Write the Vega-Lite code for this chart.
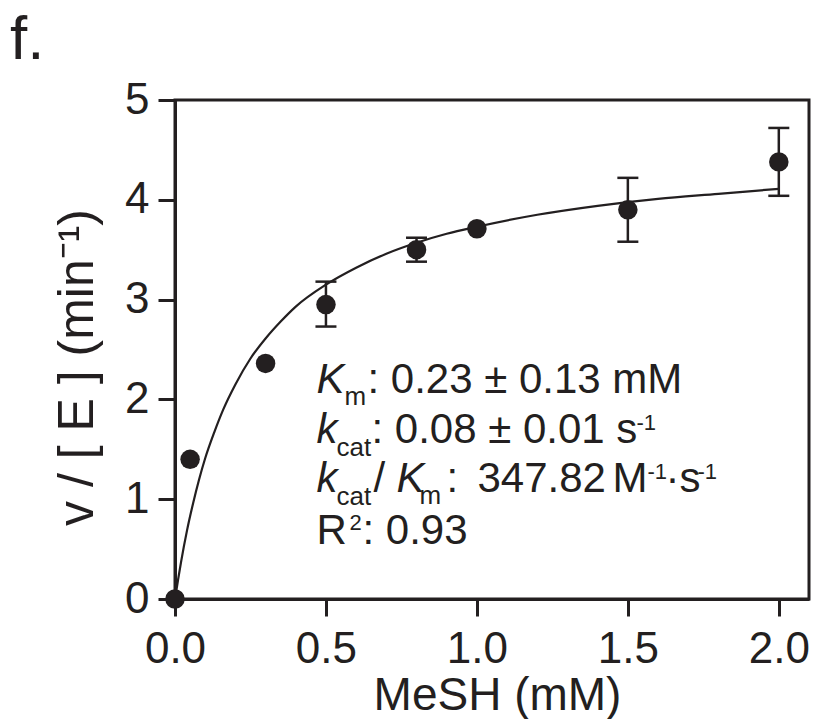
{
  "$schema": "https://vega.github.io/schema/vega-lite/v6.json",
  "width": 634,
  "height": 499,
  "autosize": {"type": "none"},
  "padding": {"left": 175, "top": 100, "right": 9, "bottom": 120},
  "background": "white",
  "title": {"text": "f.", "anchor": "start", "frame": "group", "fontSize": 62, "fontWeight": "normal", "dx": -165, "offset": -43, "baseline": "alphabetic", "color": "#231f20", "font": "Liberation Sans"},
  "config": {
    "font": "Liberation Sans",
    "view": {"stroke": "#231f20", "strokeWidth": 3},
    "text": {"font": "Liberation Sans", "color": "#231f20"},
    "axis": {"grid": false, "labelFlush": false, "labelOverlap": false, "domainColor": "#231f20", "domainWidth": 3, "tickColor": "#231f20", "tickWidth": 3, "tickSize": 17, "labelColor": "#231f20", "titleColor": "#231f20", "labelFont": "Liberation Sans", "titleFont": "Liberation Sans", "titleFontWeight": "normal", "labelFontSize": 44}
  },
  "datasets": {
    "obs": [
      {"x": 0, "y": 0},
      {"x": 0.05, "y": 1.40},
      {"x": 0.3, "y": 2.36},
      {"x": 0.5, "y": 2.95, "lo": 2.73, "hi": 3.18},
      {"x": 0.8, "y": 3.50, "lo": 3.38, "hi": 3.62},
      {"x": 1.0, "y": 3.71},
      {"x": 1.5, "y": 3.90, "lo": 3.58, "hi": 4.22},
      {"x": 2.0, "y": 4.38, "lo": 4.04, "hi": 4.72}
    ],
    "fit": [
      {"x": 0, "y": 0},
      {"x": 0.01, "y": 0.19},
      {"x": 0.02, "y": 0.37},
      {"x": 0.04, "y": 0.69},
      {"x": 0.06, "y": 0.96},
      {"x": 0.08, "y": 1.20},
      {"x": 0.1, "y": 1.41},
      {"x": 0.13, "y": 1.67},
      {"x": 0.16, "y": 1.90},
      {"x": 0.2, "y": 2.15},
      {"x": 0.25, "y": 2.41},
      {"x": 0.3, "y": 2.61},
      {"x": 0.35, "y": 2.78},
      {"x": 0.4, "y": 2.93},
      {"x": 0.5, "y": 3.15},
      {"x": 0.6, "y": 3.32},
      {"x": 0.7, "y": 3.46},
      {"x": 0.8, "y": 3.57},
      {"x": 0.9, "y": 3.66},
      {"x": 1.0, "y": 3.73},
      {"x": 1.2, "y": 3.85},
      {"x": 1.4, "y": 3.94},
      {"x": 1.6, "y": 4.01},
      {"x": 1.8, "y": 4.06},
      {"x": 2.0, "y": 4.11}
    ],
    "note": [{"line": "stats"}]
  },
  "layer": [
    {"data": {"name": "fit"}, "mark": {"type": "line", "color": "#231f20", "strokeWidth": 2.2, "interpolate": "monotone", "clip": false},
      "encoding": {
        "x": {"field": "x", "type": "quantitative", "scale": {"domain": [0, 2.1], "nice": false, "zero": false},
          "axis": {"title": "MeSH (mM)", "values": [0, 0.5, 1, 1.5, 2], "format": ".1f", "labelPadding": 11, "titleFontSize": 46, "titleX": 322, "titleY": 110, "titleBaseline": "alphabetic"}},
        "y": {"field": "y", "type": "quantitative", "scale": {"domain": [0, 5], "nice": false},
          "axis": {"title": "v / [ E ] (min⁻¹)", "values": [0, 1, 2, 3, 4, 5], "format": "d", "labelPadding": 9, "titleFontSize": 50, "titleX": -83, "titleY": 267, "titleBaseline": "alphabetic"}}
      }},
    {"data": {"name": "obs"}, "transform": [{"filter": "isValid(datum.lo)"}],
      "mark": {"type": "rule", "color": "#231f20", "strokeWidth": 2.5},
      "encoding": {"x": {"field": "x", "type": "quantitative"}, "y": {"field": "lo", "type": "quantitative"}, "y2": {"field": "hi"}}},
    {"data": {"name": "obs"}, "transform": [{"filter": "isValid(datum.lo)"}],
      "mark": {"type": "tick", "orient": "horizontal", "size": 21, "thickness": 2.5, "color": "#231f20", "opacity": 1},
      "encoding": {"x": {"field": "x", "type": "quantitative"}, "y": {"field": "lo", "type": "quantitative"}}},
    {"data": {"name": "obs"}, "transform": [{"filter": "isValid(datum.hi)"}],
      "mark": {"type": "tick", "orient": "horizontal", "size": 21, "thickness": 2.5, "color": "#231f20", "opacity": 1},
      "encoding": {"x": {"field": "x", "type": "quantitative"}, "y": {"field": "hi", "type": "quantitative"}}},
    {"data": {"name": "obs"}, "mark": {"type": "point", "shape": "circle", "filled": true, "size": 380, "color": "#231f20", "opacity": 1, "clip": false},
      "encoding": {"x": {"field": "x", "type": "quantitative"}, "y": {"field": "y", "type": "quantitative"}}},
    {"data": {"name": "note"},
      "encoding": {"x": {"datum": 0.4685, "type": "quantitative"}, "y": {"datum": 2.064, "type": "quantitative"}},
      "layer": [
        {"mark": {"type": "text", "text": "K", "fontSize": 42, "fontStyle": "italic", "align": "left", "baseline": "alphabetic"}},
        {"mark": {"type": "text", "text": "m", "fontSize": 26, "align": "left", "baseline": "alphabetic", "dx": 28, "dy": 12}},
        {"mark": {"type": "text", "text": ": 0.23 ± 0.13 mM", "fontSize": 42, "align": "left", "baseline": "alphabetic", "dx": 51}}
      ]},
    {"data": {"name": "note"},
      "encoding": {"x": {"datum": 0.4685, "type": "quantitative"}, "y": {"datum": 1.563, "type": "quantitative"}},
      "layer": [
        {"mark": {"type": "text", "text": "k", "fontSize": 42, "fontStyle": "italic", "align": "left", "baseline": "alphabetic"}},
        {"mark": {"type": "text", "text": "cat", "fontSize": 26, "align": "left", "baseline": "alphabetic", "dx": 20, "dy": 13}},
        {"mark": {"type": "text", "text": ": 0.08 ± 0.01 s", "fontSize": 42, "align": "left", "baseline": "alphabetic", "dx": 55}},
        {"mark": {"type": "text", "text": "-1", "fontSize": 22, "align": "left", "baseline": "alphabetic", "dx": 320, "dy": -13}}
      ]},
    {"data": {"name": "note"},
      "encoding": {"x": {"datum": 0.4685, "type": "quantitative"}, "y": {"datum": 1.072, "type": "quantitative"}},
      "layer": [
        {"mark": {"type": "text", "text": "k", "fontSize": 42, "fontStyle": "italic", "align": "left", "baseline": "alphabetic"}},
        {"mark": {"type": "text", "text": "cat", "fontSize": 26, "align": "left", "baseline": "alphabetic", "dx": 20, "dy": 13}},
        {"mark": {"type": "text", "text": "/", "fontSize": 42, "align": "left", "baseline": "alphabetic", "dx": 57}},
        {"mark": {"type": "text", "text": "K", "fontSize": 42, "fontStyle": "italic", "align": "left", "baseline": "alphabetic", "dx": 80}},
        {"mark": {"type": "text", "text": "m", "fontSize": 26, "align": "left", "baseline": "alphabetic", "dx": 103, "dy": 12}},
        {"mark": {"type": "text", "text": ":", "fontSize": 42, "align": "left", "baseline": "alphabetic", "dx": 130}},
        {"mark": {"type": "text", "text": "347.82", "fontSize": 42, "align": "left", "baseline": "alphabetic", "dx": 161}},
        {"mark": {"type": "text", "text": "M", "fontSize": 42, "align": "left", "baseline": "alphabetic", "dx": 296}},
        {"mark": {"type": "text", "text": "-1", "fontSize": 22, "align": "left", "baseline": "alphabetic", "dx": 331, "dy": -13}},
        {"mark": {"type": "text", "text": "·s", "fontSize": 42, "align": "left", "baseline": "alphabetic", "dx": 349}},
        {"mark": {"type": "text", "text": "-1", "fontSize": 22, "align": "left", "baseline": "alphabetic", "dx": 381, "dy": -13}}
      ]},
    {"data": {"name": "note"},
      "encoding": {"x": {"datum": 0.4685, "type": "quantitative"}, "y": {"datum": 0.551, "type": "quantitative"}},
      "layer": [
        {"mark": {"type": "text", "text": "R", "fontSize": 42, "align": "left", "baseline": "alphabetic"}},
        {"mark": {"type": "text", "text": "2", "fontSize": 22, "align": "left", "baseline": "alphabetic", "dx": 33, "dy": -14}},
        {"mark": {"type": "text", "text": ": 0.93", "fontSize": 42, "align": "left", "baseline": "alphabetic", "dx": 46}}
      ]}
  ]
}
